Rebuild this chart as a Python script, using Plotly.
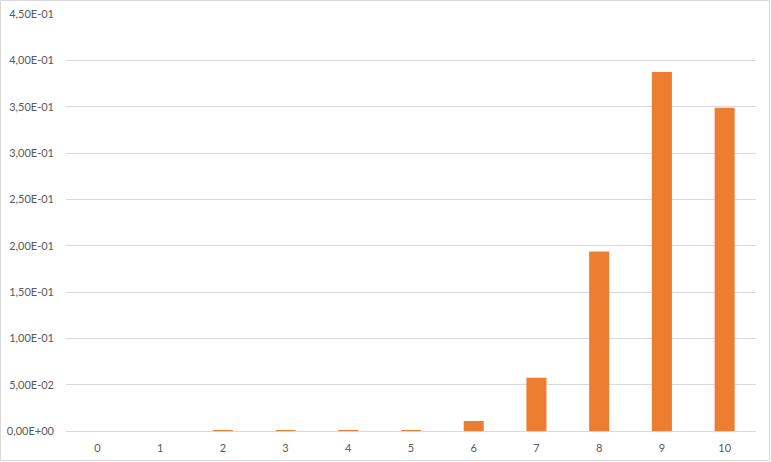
import plotly.graph_objects as go

categories = ["0", "1", "2", "3", "4", "5", "6", "7", "8", "9", "10"]
values = [0.0, 0.0, 0.001, 0.001, 0.001, 0.001, 0.0108, 0.0574, 0.1937, 0.3874, 0.3487]
tick_vals = [0.0, 0.05, 0.10, 0.15, 0.20, 0.25, 0.30, 0.35, 0.40, 0.45]
tick_text = ["0,00E+00", "5,00E-02", "1,00E-01", "1,50E-01", "2,00E-01",
             "2,50E-01", "3,00E-01", "3,50E-01", "4,00E-01", "4,50E-01"]

fig = go.Figure(go.Bar(x=categories, y=values, marker_color="#ED7D31",
                       marker_line_width=0, hoverinfo="skip"))

W, H = 771, 462
ml, mr, mt, mb = 66, 15, 14, 31
pw, ph = W - ml - mr, H - mt - mb

fig.update_layout(
    width=W, height=H,
    margin=dict(l=ml, r=mr, t=mt, b=mb, pad=0),
    paper_bgcolor="white", plot_bgcolor="white",
    bargap=0.68, showlegend=False,
    font=dict(family="Lato, Liberation Sans, Arial", size=11, color="#595959"),
    xaxis=dict(type="category", range=[-0.5, 10.5], showgrid=False,
               showline=True, linecolor="#d9d9d9", linewidth=1,
               ticks="", ticklabelstandoff=7, automargin=False),
    yaxis=dict(range=[0, 0.45], tickvals=tick_vals, ticktext=tick_text,
               showgrid=True, gridcolor="#d9d9d9", gridwidth=1,
               zeroline=False, showline=False, ticks="", ticklabelstandoff=11,
               automargin=False),
    shapes=[dict(type="rect", xref="paper", yref="paper",
                 x0=(0.5 - ml) / pw, x1=(W - 1.5 - ml) / pw,
                 y0=(H - mb - (H - 1.5)) / ph, y1=(H - mb - 0.5) / ph,
                 line=dict(color="#d9d9d9", width=1), layer="below")],
)

# page has a default 8px body margin; drop it so the chart sits at 0,0
fig.write_html("out.html", config={"displayModeBar": False},
               post_script="document.body.style.margin='0';")
